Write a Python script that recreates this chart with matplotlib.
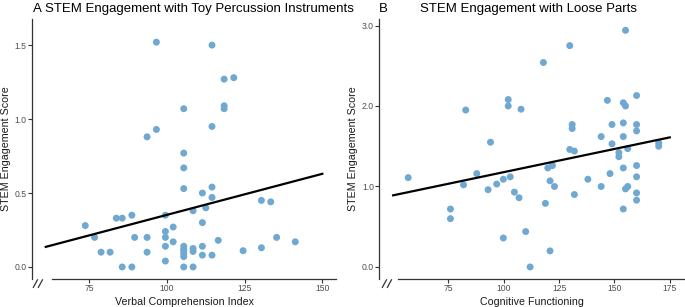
import matplotlib
matplotlib.use("Agg")
import matplotlib.pyplot as plt
import numpy as np

plt.rcParams['font.family'] = ['Liberation Sans', 'DejaVu Sans']

# ---- Panel A data ----
vci = [73.7, 76.7, 78.8, 81.7, 83.7, 85.6, 85.6, 88.7, 88.7, 89.6, 93.6, 93.6, 93.6,
       96.6, 96.6, 99.5, 99.5, 99.5, 99.5, 99.5, 102, 102, 105.4, 105.4, 105.4, 105.4,
       105.4, 105.4, 105.4, 105.4, 105.4, 105.4, 108.4, 108.4, 108.4, 108.4, 111.4,
       111.4, 111.4, 111.4, 112.5, 114.5, 114.5, 114.5, 114.5, 114.5, 116.5, 118.4,
       118.4, 118.4, 121.5, 124.5, 130.4, 130.4, 133.4, 135.3, 141.3]
stem_a = [0.28, 0.20, 0.10, 0.10, 0.33, 0.33, 0.0, 0.35, 0.0, 0.20, 0.20, 0.10, 0.88,
          0.93, 1.52, 0.35, 0.24, 0.20, 0.14, 0.04, 0.27, 0.17, 1.07, 0.77, 0.67, 0.53,
          0.14, 0.12, 0.11, 0.09, 0.07, 0.0, 0.38, 0.125, 0.105, 0.0, 0.50,
          0.30, 0.14, 0.08, 0.40, 1.50, 0.95, 0.54, 0.47, 0.08, 0.18, 1.27,
          1.09, 1.07, 1.28, 0.11, 0.45, 0.13, 0.44, 0.20, 0.17]
fit_a_range = [61, 150]
fit_a_coef = (0.00555, -0.2026)  # slope, intercept

# ---- Panel B data ----
cog = [56.8, 75.9, 75.9, 81.8, 82.8, 87.8, 92.9, 94, 96.8, 99.8, 99.8, 102, 102, 102.9,
       104.8, 106.9, 107.8, 109.9, 111.9, 117.9, 118.8, 119.9, 120.9, 120.9, 122, 122.9,
       129.8, 129.8, 130.9, 130.9, 131.9, 131.9, 138, 144, 144, 146.8, 148, 148.9, 148.9,
       152, 152, 154, 155, 154, 154, 155, 156, 154, 154, 155, 156, 160, 160, 160, 160,
       160, 160, 160, 170, 170]
stem_b = [1.11, 0.72, 0.60, 1.02, 1.95, 1.16, 0.96, 1.55, 1.03, 1.09, 0.36, 2.08, 2.0, 1.12,
          0.93, 0.86, 1.96, 0.44, 0.0, 2.54, 0.79, 1.23, 0.20, 1.07, 1.26, 1.0,
          2.75, 1.46, 1.77, 1.72, 1.44, 0.90, 1.09, 1.62, 1.00, 2.07, 1.16, 1.77, 1.53,
          1.42, 1.37, 2.04, 2.0, 1.79, 1.62, 2.94, 1.47, 1.23, 0.72, 0.97, 1.0, 2.13, 1.77,
          1.69, 1.26, 1.12, 0.92, 0.83, 1.54, 1.50]
fit_b_range = [50, 175]
fit_b_coef = (0.00576, 0.602)

a_xticks = [75, 100, 125, 150]
a_yticks = [0.0, 0.5, 1.0, 1.5]
b_xticks = [75, 100, 125, 150, 175]
b_yticks = [0.0, 1.0, 2.0, 3.0]

W, H = 685, 307
fig = plt.figure(figsize=(W / 100, H / 100), dpi=100)

point_color = '#6FA8D0'
axis_color = '#333333'
tick_label_color = '#4D4D4D'


def make_panel(rect, x, y, fit_range, coef, xlim, ylim, xticks, yticks, xlabel,
               xspine_lo, slash_x0):
    ax = fig.add_axes(rect)
    ax.scatter(x, y, s=25, color=point_color, edgecolors='none', zorder=2)
    fx = np.array(fit_range, dtype=float)
    ax.plot(fx, coef[0] * fx + coef[1], color='black', lw=1.6, zorder=3)
    ax.set_xlim(*xlim)
    ax.set_ylim(*ylim)
    ax.set_xticks(xticks)
    ax.set_yticks(yticks)
    ax.set_yticklabels([f"{v:.1f}" for v in yticks])
    for s in ['top', 'right']:
        ax.spines[s].set_visible(False)
    for s in ['left', 'bottom']:
        ax.spines[s].set_color(axis_color)
        ax.spines[s].set_linewidth(0.9)
    ax.spines['bottom'].set_bounds(xspine_lo, xlim[1])
    ax.tick_params(axis='both', length=2.6, width=0.8, color=axis_color,
                   labelcolor=tick_label_color, labelsize=6.2, pad=1.2)
    ax.set_xlabel(xlabel, fontsize=7.7, color='#1a1a1a', labelpad=2.5)
    # axis break marks
    for dx in (0.0, 0.0165):
        ax.plot([slash_x0 + dx, slash_x0 + dx + 0.0135], [-0.033, -0.004],
                transform=ax.transAxes, color=axis_color, lw=0.9, clip_on=False)
    return ax


rectA = [31.8 / W, 28.2 / H, 304.5 / W, 260.3 / H]
rectB = [379.3 / W, 28.2 / H, 304.3 / W, 260.3 / H]

axA = make_panel(rectA, vci, stem_a, fit_a_range, fit_a_coef, (56.5, 154.5),
                 (-0.08, 1.68), a_xticks, a_yticks, 'Verbal Comprehension Index', 62.9, 0.005)
axB = make_panel(rectB, cog, stem_b, fit_b_range, fit_b_coef, (43.75, 181.25),
                 (-0.147, 3.087), b_xticks, b_yticks, 'Cognitive Functioning', 52.3, 0.010)

for ax, xc in ((axA, 6.5), (axB, 353)):
    fig.text(xc / W, 1 - 148.6 / H, 'STEM Engagement Score', rotation=90,
             ha='center', va='center', fontsize=7.7, color='#1a1a1a')

title_y = 1 - 12 / H
fig.text(32.5 / W, title_y, 'A', fontsize=9.5, ha='left', va='baseline')
fig.text(45 / W, title_y, 'STEM Engagement with Toy Percussion Instruments',
         fontsize=9.5, ha='left', va='baseline')
fig.text(379 / W, title_y, 'B', fontsize=9.5, ha='left', va='baseline')
fig.text(528.5 / W, title_y, 'STEM Engagement with Loose Parts',
         fontsize=9.5, ha='center', va='baseline')

fig.savefig('out.png', dpi=100)
